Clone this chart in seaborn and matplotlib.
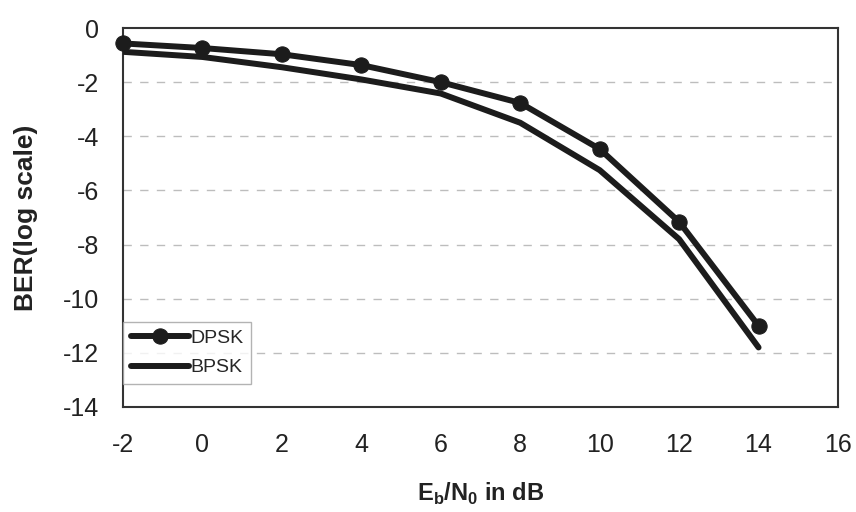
import matplotlib
matplotlib.use("Agg")
import matplotlib.pyplot as plt
import seaborn as sns
import pandas as pd

# Data
ebn0_db = [-2, 0, 2, 4, 6, 8, 10, 12, 14]
dpsk_log_ber = [-0.57, -0.74, -0.97, -1.37, -2.0, -2.77, -4.47, -7.16, -11.0]
bpsk_log_ber = [-0.88, -1.07, -1.45, -1.9, -2.42, -3.5, -5.25, -7.8, -11.8]
series_names = ["DPSK", "BPSK"]
x_ticks = [-2, 0, 2, 4, 6, 8, 10, 12, 14, 16]
y_ticks = [0, -2, -4, -6, -8, -10, -12, -14]

sns.set_style("white")
plt.rcParams["font.family"] = ["Liberation Sans", "DejaVu Sans"]
plt.rcParams["mathtext.fontset"] = "custom"
plt.rcParams["mathtext.rm"] = "Liberation Sans:bold"
plt.rcParams["mathtext.bf"] = "Liberation Sans:bold"

df = pd.DataFrame({
    "x": ebn0_db * 2,
    "y": dpsk_log_ber + bpsk_log_ber,
    "s": [series_names[0]] * len(ebn0_db) + [series_names[1]] * len(ebn0_db),
})

fig = plt.figure(figsize=(8.56, 5.12), dpi=100)
ax = fig.add_axes([123 / 856, 1 - 407 / 512, (838 - 123) / 856, (407 - 28) / 512])

line_color = "#1c1c1c"
sns.lineplot(data=df[df.s == "DPSK"], x="x", y="y", ax=ax, color=line_color,
             lw=4.3, marker="o", markersize=11, markeredgecolor=line_color,
             label="DPSK", zorder=4, clip_on=False)
sns.lineplot(data=df[df.s == "BPSK"], x="x", y="y", ax=ax, color=line_color,
             lw=4.3, label="BPSK", zorder=3)

ax.set_xlim(-2, 16)
ax.set_ylim(-14, 0)
ax.set_xticks(x_ticks)
ax.set_yticks(y_ticks)
ax.set_xticklabels([str(v) for v in x_ticks], fontsize=18, color="#222222")
ax.set_yticklabels([str(v) for v in y_ticks], fontsize=18, color="#222222")
ax.tick_params(axis="x", length=0, pad=19)
ax.tick_params(axis="y", length=0, pad=17)

for yv in y_ticks[1:-1]:
    ax.axhline(yv, color="#bdbdbd", lw=1.0, ls=(0, (6, 6)), zorder=1)

for sp in ax.spines.values():
    sp.set_color("#333333")
    sp.set_linewidth(1.5)

ax.set_xlabel(r"E$_\mathrm{b}$/N$_\mathrm{0}$ in dB", fontsize=17, fontweight="bold",
              labelpad=17, color="#222222")
ax.set_ylabel("BER(log scale)", fontsize=19, fontweight="bold", labelpad=18,
              color="#222222")

leg = ax.legend(loc="lower left", bbox_to_anchor=(0.0, 0.06), fontsize=14,
                frameon=True, fancybox=False, edgecolor="#a0a0a0",
                handlelength=3.0, handletextpad=0.05, labelspacing=0.6,
                borderpad=0.4, borderaxespad=0.0)
leg.get_frame().set_linewidth(1.0)

fig.savefig("out.png", dpi=100, facecolor="white")
